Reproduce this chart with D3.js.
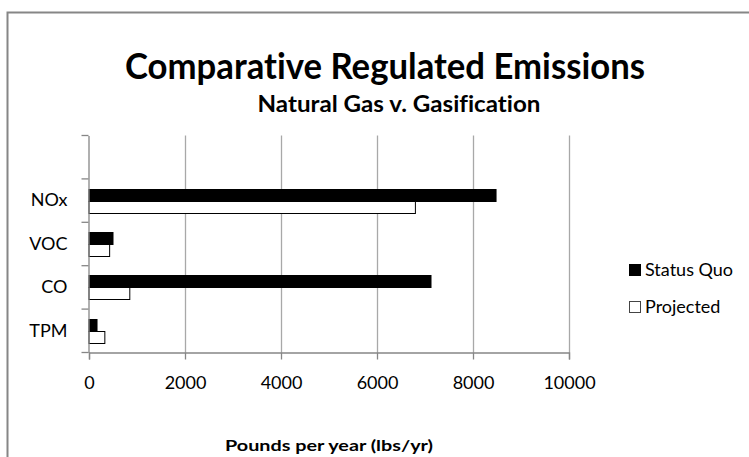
<!DOCTYPE html>
<html>
<head>
<meta charset="utf-8">
<script src="https://cdn.jsdelivr.net/npm/d3@7"></script>
<style>
  body { margin: 0; background: #fff; }
  svg text { font-family: Lato, "Open Sans", sans-serif; fill: #000; font-variant-ligatures: none; }
</style>
</head>
<body>
<svg id="chart" width="749" height="457"></svg>
<script>
// chart values, top row of the chart first (the top slot is blank in the source)
var categories = ["", "NOx", "VOC", "CO", "TPM"];
var seriesNames = ["Status Quo", "Projected"];
var statusQuo = [null, 8480, 500, 7125, 167];
var projected = [null, 6800, 430, 850, 330];
var xTicks = [0, 2000, 4000, 6000, 8000, 10000];

var svg = d3.select("#chart");

// outer chart border (runs off the right and bottom edges)
svg.append("rect")
    .attr("x", 7.5).attr("y", 12.5)
    .attr("width", 800).attr("height", 500)
    .attr("fill", "#fff")
    .attr("stroke", "#868686")
    .attr("stroke-width", 2);

var plot = {left: 89, right: 569, top: 135.5, bottom: 352.5};

var x = d3.scaleLinear()
    .domain([0, 10000])
    .range([plot.left, plot.right]);

var y = d3.scaleBand()
    .domain(categories)
    .range([plot.top, plot.bottom]);

var ySub = d3.scaleBand()
    .domain(seriesNames)
    .range([0, y.bandwidth()])
    .paddingOuter(0.8);

// vertical gridlines
svg.append("g")
    .selectAll("line")
    .data(xTicks.slice(1))
    .enter()
    .append("line")
    .attr("x1", function(d){ return Math.round(x(d)) + 0.5; })
    .attr("x2", function(d){ return Math.round(x(d)) + 0.5; })
    .attr("y1", plot.top)
    .attr("y2", plot.bottom)
    .attr("stroke", "#a8a8a8")
    .attr("stroke-width", 1.3);

// bars
var rows = [];
categories.forEach(function(c, i){
    if (statusQuo[i] != null) rows.push({cat: c, s: "Status Quo", v: statusQuo[i]});
    if (projected[i] != null) rows.push({cat: c, s: "Projected", v: projected[i]});
});

svg.append("g")
    .selectAll("rect")
    .data(rows)
    .enter()
    .append("rect")
    .attr("x", x(0))
    .attr("y", function(d){ return Math.round(y(d.cat) + ySub(d.s)) + 0.5; })
    .attr("width", function(d){ return x(d.v) - x(0); })
    .attr("height", Math.round(ySub.bandwidth()))
    .attr("fill", function(d){ return d.s == "Status Quo" ? "#000" : "#fff"; })
    .attr("stroke", "#000")
    .attr("stroke-width", 1);

// y axis
var yAxis = d3.axisLeft(y)
    .tickSize(0)
    .tickPadding(21);
var gy = svg.append("g")
    .attr("transform", "translate(" + (plot.left - 0.5) + ",0)")
    .call(yAxis);
gy.select(".domain").attr("stroke", "#868686").attr("stroke-width", 1.3);
gy.selectAll("text").style("font-size", "18px").attr("fill", "#111");
// category boundary ticks
gy.selectAll(".bound")
    .data(d3.range(categories.length + 1))
    .enter()
    .append("line")
    .attr("x1", -7).attr("x2", 0)
    .attr("y1", function(i){ return plot.top + i * y.step(); })
    .attr("y2", function(i){ return plot.top + i * y.step(); })
    .attr("stroke", "#868686")
    .attr("stroke-width", 1.3);

// x axis
var xAxis = d3.axisBottom(x)
    .tickValues(xTicks)
    .tickSize(7)
    .tickPadding(17)
    .tickFormat(d3.format("d"));
var gx = svg.append("g")
    .attr("transform", "translate(0," + plot.bottom + ")")
    .call(xAxis);
gx.select(".domain").attr("stroke", "#868686").attr("stroke-width", 1.3);
gx.selectAll(".tick line").attr("stroke", "#868686").attr("stroke-width", 1.3);
gx.selectAll("text").style("font-size", "18px").attr("fill", "#111");

// titles
svg.append("text")
    .attr("x", 385).attr("y", 79)
    .attr("text-anchor", "middle")
    .style("font-size", "36px").style("font-weight", "bold")
    .attr("textLength", 520).attr("lengthAdjust", "spacingAndGlyphs")
    .text("Comparative Regulated Emissions");

svg.append("text")
    .attr("x", 399).attr("y", 112)
    .attr("text-anchor", "middle")
    .style("font-size", "23px").style("font-weight", "bold")
    .attr("textLength", 283).attr("lengthAdjust", "spacingAndGlyphs")
    .text("Natural Gas v. Gasification");

svg.append("text")
    .attr("x", (plot.left + plot.right) / 2).attr("y", 451)
    .attr("text-anchor", "middle")
    .style("font-size", "15px").style("font-weight", "bold")
    .attr("textLength", 208).attr("lengthAdjust", "spacingAndGlyphs")
    .text("Pounds per year (lbs/yr)");

// legend
var legend = svg.append("g")
    .selectAll("g")
    .data(seriesNames)
    .enter()
    .append("g")
    .attr("transform", function(d, i){ return "translate(629," + (264 + i * 37) + ")"; });
legend.append("rect")
    .attr("x", 0.5).attr("y", 0.5)
    .attr("width", 11).attr("height", 11)
    .attr("fill", function(d){ return d == "Status Quo" ? "#000" : "#fff"; })
    .attr("stroke", function(d){ return d == "Status Quo" ? "#000" : "#444"; });
legend.append("text")
    .attr("x", 16).attr("y", 12)
    .style("font-size", "18px")
    .attr("fill", "#111")
    .text(function(d){ return d; });
</script>
</body>
</html>
